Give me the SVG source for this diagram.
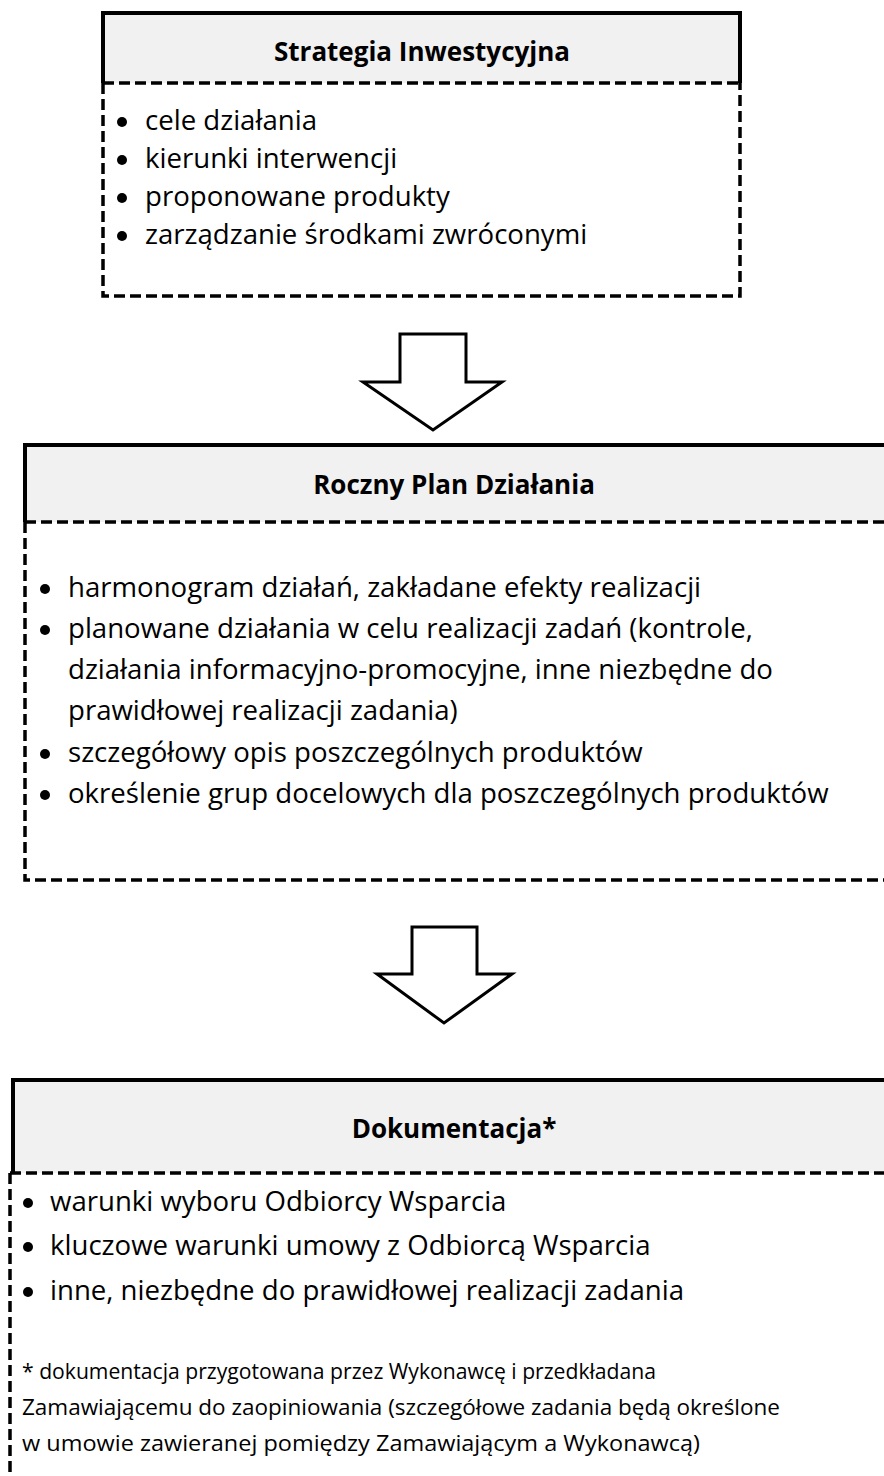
<svg xmlns="http://www.w3.org/2000/svg" width="884" height="1476" viewBox="0 0 884 1476">
<style>
.hdr{fill:#f1f1f1;stroke:none}
.solid{fill:none;stroke:#000;stroke-width:4;stroke-linejoin:miter}
.dash{fill:none;stroke:#000;stroke-width:3.5;stroke-dasharray:11 5}
.title{font-family:"Open Sans","Noto Sans",sans-serif;font-weight:bold;font-size:26px;fill:#000;text-anchor:middle}
.txt{font-family:"Open Sans","Noto Sans",sans-serif;font-size:27.6px;fill:#000}
.note{font-family:"Open Sans","Noto Sans",sans-serif;font-size:21px;fill:#000}
.bul{fill:#000}
.arrow{fill:#fff;stroke:#000;stroke-width:3;stroke-linejoin:miter}
</style>
<rect width="884" height="1476" fill="#fff"/>
<g id="strategia">
<rect class="hdr" x="103" y="13" width="637" height="70"/>
<path class="solid" d="M103,83 V13 H740 V83"/>
<path class="dash" d="M103,83 H740"/>
<path class="dash" d="M103,83 V296 H740 V83"/>
<text class="title" x="422" y="61">Strategia Inwestycyjna</text>
<circle class="bul" cx="122" cy="122" r="5"/>
<text class="txt" x="145" y="130">cele działania</text>
<circle class="bul" cx="122" cy="160" r="5"/>
<text class="txt" x="145" y="168">kierunki interwencji</text>
<circle class="bul" cx="122" cy="198" r="5"/>
<text class="txt" x="145" y="206">proponowane produkty</text>
<circle class="bul" cx="122" cy="236" r="5"/>
<text class="txt" x="145" y="244">zarządzanie środkami zwróconymi</text>
</g>
<g id="roczny-plan">
<rect class="hdr" x="25" y="445" width="870" height="77"/>
<path class="solid" d="M25,522 V445 H895"/>
<path class="dash" d="M25,522 H895"/>
<path class="dash" d="M25,522 V880 H895"/>
<text class="title" x="454" y="494">Roczny Plan Działania</text>
<circle class="bul" cx="45" cy="589" r="5"/>
<text class="txt" x="68" y="597">harmonogram działań, zakładane efekty realizacji</text>
<circle class="bul" cx="45" cy="630" r="5"/>
<text class="txt" x="68" y="638">planowane działania w celu realizacji zadań (kontrole,</text>
<text class="txt" x="68" y="679">działania informacyjno-promocyjne, inne niezbędne do</text>
<text class="txt" x="68" y="720">prawidłowej realizacji zadania)</text>
<circle class="bul" cx="45" cy="754" r="5"/>
<text class="txt" x="68" y="762">szczegółowy opis poszczególnych produktów</text>
<circle class="bul" cx="45" cy="795" r="5"/>
<text class="txt" x="68" y="803">określenie grup docelowych dla poszczególnych produktów</text>
</g>
<g id="dokumentacja">
<rect class="hdr" x="13" y="1080" width="880" height="93"/>
<path class="solid" d="M13,1173 V1080 H895"/>
<path class="dash" d="M10,1173 H895"/>
<path class="dash" d="M10,1173 V1490"/>
<text class="title" x="454" y="1138">Dokumentacja*</text>
<circle class="bul" cx="28" cy="1203" r="5"/>
<text class="txt" x="50" y="1211">warunki wyboru Odbiorcy Wsparcia</text>
<circle class="bul" cx="28" cy="1247" r="5"/>
<text class="txt" x="50" y="1255">kluczowe warunki umowy z Odbiorcą Wsparcia</text>
<circle class="bul" cx="28" cy="1292" r="5"/>
<text class="txt" x="50" y="1300">inne, niezbędne do prawidłowej realizacji zadania</text>
<text class="note" x="22" y="1379" textLength="634" lengthAdjust="spacingAndGlyphs">* dokumentacja przygotowana przez Wykonawcę i przedkładana</text>
<text class="note" x="22" y="1415" textLength="758" lengthAdjust="spacingAndGlyphs">Zamawiającemu do zaopiniowania (szczegółowe zadania będą określone</text>
<text class="note" x="22" y="1451" textLength="678" lengthAdjust="spacingAndGlyphs">w umowie zawieranej pomiędzy Zamawiającym a Wykonawcą)</text>
</g>
<g id="connectors">
<polygon class="arrow" points="400,334 466,334 466,382 502,382 433,430 363,382 400,382"/>
<polygon class="arrow" points="412,927 477,927 477,974 512,974 444,1023 377,974 412,974"/>
</g>
</svg>
